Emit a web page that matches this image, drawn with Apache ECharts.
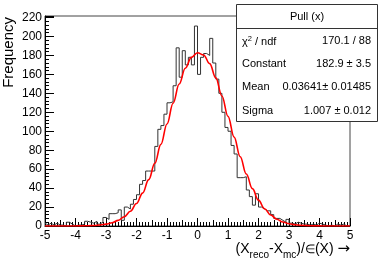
<!DOCTYPE html>
<html><head><meta charset="utf-8">
<script src="https://cdn.jsdelivr.net/npm/echarts@6/dist/echarts.min.js"></script>
<style>html,body{margin:0;padding:0;background:#fff}#c{width:382px;height:262px}</style>
</head><body><div id="c"></div>
<script>
// Histogram binning and bin contents
const binLow = -5;
const binWidth = 0.1;
const counts = [
  3,1,3,1,3,1,1,0,4,2,
  0,1,1,2,5,4,3,5,2,4,
  9,7,13,13,14,17,6,20,18,23,
  28,33,44,48,58,58,58,84,102,106,
  118,130,131,148,188,157,185,170,178,170,
  211,160,178,182,180,198,172,155,140,120,
  104,100,85,76,51,51,52,38,31,22,
  34,20,18,16,16,12,8,8,6,4,
  7,3,2,4,3,2,2,1,2,1,
  3,2,1,0,1,0,2,1,2,0
];
const fitX = [-5,-4.8,-4.6,-4.4,-4.2,-4,-3.8,-3.6,-3.4,-3.2,-3,-2.8,-2.6,-2.4,-2.2,-2,-1.8,-1.6,-1.4,-1.2,-1,-0.8,-0.6,-0.4,-0.2,0,0.2,0.4,0.6,0.8,1,1.2,1.4,1.6,1.8,2,2.2,2.4,2.6,2.8,3,3.2,3.4,3.6,3.8,4,4.2,4.4,4.6,4.8,5];
const fitY = [0,0,0,0.01,0.02,0.06,0.13,0.27,0.54,1.04,1.94,3.47,5.94,9.81,15.5,23.7,34.7,48.9,66.2,86.1,107.7,129.6,149.8,166.5,177.9,182.8,180.5,171.3,156.3,137.2,115.7,93.8,73.1,54.8,39.4,27.3,18.2,11.6,7.15,4.23,2.4,1.31,0.69,0.35,0.17,0.08,0.03,0.01,0,0,0];
// Texts
const histTitle = 'Pull (x)';
const statNames = ['chi2', 'Constant', 'Mean', 'Sigma'];
const statValues = ['170.1 / 88', '182.9 \u00b1 3.5', '0.03641\u00b1 0.01485', '1.007 \u00b1 0.012'];
const yTitle = 'Frequency';

const FONT = '"Liberation Sans", Arial, Helvetica, sans-serif';
const histData = counts.map((c, i) => [binLow + i * binWidth, c]);
histData.push([binLow + counts.length * binWidth, counts[counts.length - 1]]);
const fitData = fitX.map((x, i) => [x, fitY[i]]);

const chart = echarts.init(document.getElementById('c'), null, {renderer: 'canvas'});
const G = {left: 45, right: 32, top: 16, bottom: 36};
const statRows = statNames.map((n, i) => {
  const y = 41 + i * 23.2;
  const label = n === 'chi2'
    ? {type: 'text', x: 242, y: y, z: 12, style: {text: '{m|\u03c7}{p|2}{m| / ndf}', rich: {m: {fontSize: 11, fontFamily: FONT, verticalAlign: 'bottom'}, p: {fontSize: 7.5, fontFamily: FONT, verticalAlign: 'bottom', padding: [0,0,5,0]}}, verticalAlign: 'middle', fill: '#000'}}
    : {type: 'text', x: 242, y: y, z: 12, style: {text: n, fontSize: 11, fontFamily: FONT, verticalAlign: 'middle', fill: '#000'}};
  const val = {type: 'text', x: 371, y: y, z: 12, style: {text: statValues[i], fontSize: 11, fontFamily: FONT, align: 'right', verticalAlign: 'middle', fill: '#000'}};
  return [label, val];
}).flat();

chart.setOption({
  animation: false,
  grid: {left: G.left, right: G.right, top: G.top, bottom: G.bottom, show: true, borderColor: '#444', borderWidth: 1, backgroundColor: 'transparent'},
  xAxis: [{
    type: 'value', min: -5, max: 5, interval: 1,
    axisLine: {onZero: false, lineStyle: {color: '#000', width: 1}},
    axisTick: {inside: true, length: 8, lineStyle: {color: '#000'}},
    minorTick: {show: true, splitNumber: 10, length: 4, lineStyle: {color: '#000'}},
    splitLine: {show: false},
    axisLabel: {color: '#000', fontSize: 12, fontFamily: FONT, margin: 4}
  }, {
    type: 'value', min: -5, max: 5, interval: 0.5, position: 'bottom',
    axisLine: {show: false},
    axisTick: {inside: true, length: 6, lineStyle: {color: '#000'}},
    axisLabel: {show: false}, splitLine: {show: false}
  }],
  yAxis: {
    type: 'value', min: 0, max: 221.6, interval: 20,
    axisLine: {show: true, onZero: false, lineStyle: {color: '#000', width: 1}},
    axisTick: {inside: true, length: 9, lineStyle: {color: '#000'}},
    minorTick: {show: true, splitNumber: 5, length: 4, lineStyle: {color: '#000'}},
    splitLine: {show: false},
    axisLabel: {color: '#000', fontSize: 12, fontFamily: FONT, margin: 3,
      formatter: v => (Math.abs(v % 20) < 1e-6 ? String(v) : '')}
  },
  series: [{
    type: 'line', data: histData, step: 'start', showSymbol: false, symbol: 'none',
    lineStyle: {color: '#333', width: 1}, z: 2, silent: true
  }, {
    type: 'line', data: fitData, smooth: 0.4, smoothMonotone: 'x', showSymbol: false, symbol: 'none',
    lineStyle: {color: '#ff0000', width: 1.6}, z: 3, silent: true
  }],
  graphic: [
    {type: 'text', x: 9, y: 17, rotation: Math.PI / 2,
      style: {text: yTitle, fontSize: 15, fontFamily: FONT, align: 'right', verticalAlign: 'middle', fill: '#000'}},
    {type: 'text', x: 350, y: 251,
      style: {text: '{m|(X}{s|reco}{m|-X}{s|mc}{m|)/}{e|\u2208}{m|(X) }{a|\u2192}',
        rich: {m: {fontSize: 14, fontFamily: FONT, verticalAlign: 'bottom', padding: [0,0,4,0]},
               e: {fontSize: 12, fontFamily: FONT, verticalAlign: 'bottom', padding: [0,0,5,0]},
               a: {fontSize: 15, fontFamily: '"DejaVu Sans", sans-serif', verticalAlign: 'bottom', padding: [0,0,4,0]},
               s: {fontSize: 10, fontFamily: FONT, verticalAlign: 'bottom'}},
        align: 'right', verticalAlign: 'middle', fill: '#000'}},
    {type: 'rect', shape: {x: 236.5, y: 4.5, width: 141, height: 117}, style: {fill: '#fff', stroke: '#333', lineWidth: 1}, z: 10},
    {type: 'line', shape: {x1: 236.5, y1: 28.5, x2: 377.5, y2: 28.5}, style: {stroke: '#333', lineWidth: 1}, z: 10},
    {type: 'text', x: 307, y: 16.5, z: 12, style: {text: histTitle, fontSize: 11, fontFamily: FONT, align: 'center', verticalAlign: 'middle', fill: '#000'}}
  ].concat(statRows)
});
</script></body></html>
